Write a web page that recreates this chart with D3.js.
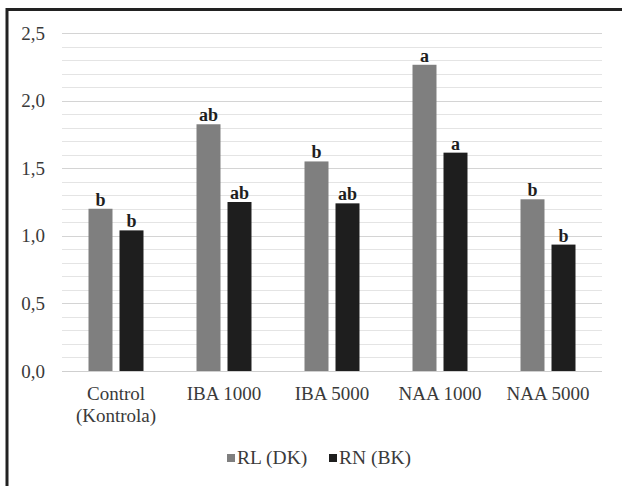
<!DOCTYPE html>
<html>
<head>
<meta charset="utf-8">
<script src="https://d3js.org/d3.v7.min.js"></script>
<style>
  body { margin: 0; background: #fff; }
  text { font-family: "Liberation Serif", "Times New Roman", serif; }
</style>
</head>
<body>
<script>
    // data
    var categories = ["Control (Kontrola)", "IBA 1000", "IBA 5000", "NAA 1000", "NAA 5000"];
    var series = ["RL (DK)", "RN (BK)"];
    var rlValues = [1.20, 1.825, 1.55, 2.265, 1.27];
    var rnValues = [1.04, 1.25, 1.24, 1.615, 0.935];
    var rlLetters = ["b", "ab", "b", "a", "b"];
    var rnLetters = ["b", "ab", "ab", "a", "b"];
    var yTicks = [0, 0.5, 1.0, 1.5, 2.0, 2.5];

    var colors = {"RL (DK)": "#7f7f7f", "RN (BK)": "#1e1e1e"};

    var W = 622, H = 486,
        plotLeft = 62, plotRight = 602, plotTop = 33, plotBottom = 371;

    var svg = d3.select("body").append("svg")
        .attr("width", W)
        .attr("height", H);

    // outer frame (runs off the right and bottom of the picture)
    svg.append("rect")
        .attr("x", 7).attr("y", 9.5)
        .attr("width", 700).attr("height", 600)
        .attr("fill", "#fff")
        .attr("stroke", "#222")
        .attr("stroke-width", 3);

    var x = d3.scaleBand()
        .domain(categories)
        .range([plotLeft, plotRight]);

    var x1 = d3.scaleBand()
        .domain(series)
        .range([0, x.bandwidth()])
        .paddingInner(0.226)
        .paddingOuter(0.855);

    var y = d3.scaleLinear()
        .domain([0, 2.5])
        .range([plotBottom, plotTop]);

    // minor + major gridlines
    var minor = d3.range(0, 26).map(function(i) { return i / 10; });
    svg.append("g").selectAll("line")
        .data(minor)
        .enter().append("line")
        .attr("x1", plotLeft).attr("x2", plotRight)
        .attr("y1", d => Math.round(y(d)) + 0.5)
        .attr("y2", d => Math.round(y(d)) + 0.5)
        .attr("stroke", (d, i) => i % 5 === 0 ? "#d4d4d4" : "#e4e4e4")
        .attr("stroke-width", 1.2);

    // y axis labels
    var yAxis = svg.append("g")
        .attr("transform", "translate(" + plotLeft + ",0)")
        .call(d3.axisLeft(y).tickValues(yTicks).tickSize(0).tickPadding(17)
            .tickFormat(d => d3.format(".1f")(d).replace(".", ",")));
    yAxis.select(".domain").remove();
    yAxis.selectAll("text")
        .attr("font-family", "Liberation Serif, serif")
        .attr("font-size", 19)
        .attr("fill", "#3a3a3a");

    // bars
    var rows = categories.map(function(c, i) {
        return {cat: c, vals: [
            {s: series[0], v: rlValues[i], l: rlLetters[i]},
            {s: series[1], v: rnValues[i], l: rnLetters[i]}
        ]};
    });

    var groups = svg.append("g").selectAll("g")
        .data(rows)
        .enter().append("g")
        .attr("transform", d => "translate(" + x(d.cat) + ",0)");

    groups.selectAll("rect")
        .data(d => d.vals)
        .enter().append("rect")
        .attr("x", d => x1(d.s))
        .attr("width", x1.bandwidth())
        .attr("y", d => y(d.v))
        .attr("height", d => y(0) - y(d.v))
        .attr("fill", d => colors[d.s]);

    groups.selectAll("text")
        .data(d => d.vals)
        .enter().append("text")
        .attr("x", d => x1(d.s) + x1.bandwidth() / 2)
        .attr("y", d => y(d.v) - 3)
        .attr("text-anchor", "middle")
        .attr("font-size", 18)
        .attr("font-weight", "bold")
        .attr("fill", "#1e1e1e")
        .text(d => d.l);

    // x axis base line
    svg.append("line")
        .attr("x1", plotLeft).attr("x2", plotRight)
        .attr("y1", plotBottom + 0.5).attr("y2", plotBottom + 0.5)
        .attr("stroke", "#cfcfcf")
        .attr("stroke-width", 1.2);

    // category labels
    var catLabels = svg.append("g").selectAll("text")
        .data(categories)
        .enter().append("text")
        .attr("x", d => x(d) + x.bandwidth() / 2)
        .attr("y", 400)
        .attr("text-anchor", "middle")
        .attr("font-size", 19)
        .attr("fill", "#3a3a3a");
    catLabels.each(function(d) {
        var t = d3.select(this);
        var parts = d.indexOf("(") > 0 ? [d.slice(0, d.indexOf("(") - 1), d.slice(d.indexOf("("))] : [d];
        parts.forEach(function(p, i) {
            t.append("tspan")
                .attr("x", x(d) + x.bandwidth() / 2)
                .attr("dy", i === 0 ? 0 : 22)
                .text(p);
        });
    });

    // legend
    var legendX = [227, 329];
    var legend = svg.append("g").selectAll("g")
        .data(series)
        .enter().append("g")
        .attr("transform", (d, i) => "translate(" + legendX[i] + ",454)");
    legend.append("rect")
        .attr("width", 8).attr("height", 8)
        .attr("fill", d => colors[d]);
    legend.append("text")
        .attr("x", 10).attr("y", 10)
        .attr("font-size", 19.5)
        .attr("fill", "#3a3a3a")
        .text(d => d);
</script>
</body>
</html>
